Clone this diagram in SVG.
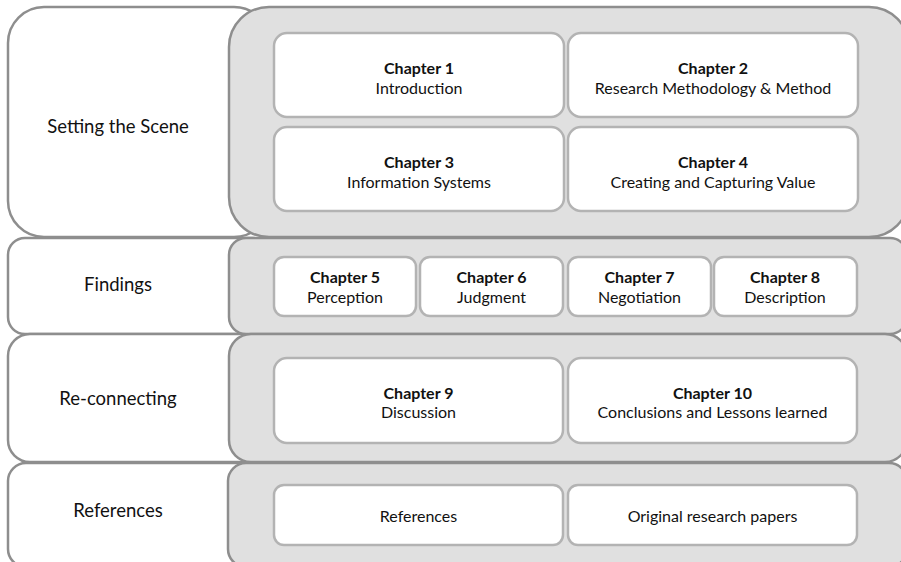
<svg xmlns="http://www.w3.org/2000/svg" width="901" height="562" viewBox="0 0 901 562">
  <style>
    .label { fill: #ffffff; stroke: #8e8e8e; stroke-width: 2.5; }
    .band { fill: #e0e0e0; stroke: #8e8e8e; stroke-width: 2.5; }
    .card { fill: #ffffff; stroke: #b3b3b3; stroke-width: 2.5; }
    text { font-family: Lato, "Liberation Sans", sans-serif; fill: #111111; text-anchor: middle; }
    .sec { font-size: 18.5px; }
    .t { font-size: 16px; }
    .b { font-size: 16px; font-weight: bold; }
  </style>

  <!-- section labels (left column) -->
  <g id="sec-scene">
    <rect class="label" x="8" y="7" width="262" height="230" rx="36"/>
    <text class="sec" x="118" y="133">Setting the Scene</text>
  </g>
  <g id="sec-findings">
    <rect class="label" x="8" y="238" width="262" height="96" rx="17"/>
    <text class="sec" x="118" y="291">Findings</text>
  </g>
  <g id="sec-reconnecting">
    <rect class="label" x="8" y="334" width="262" height="128" rx="22"/>
    <text class="sec" x="118" y="405">Re-connecting</text>
  </g>
  <g id="sec-references">
    <rect class="label" x="8" y="463" width="262" height="104" rx="18"/>
    <text class="sec" x="118" y="517">References</text>
  </g>

  <!-- grey bands holding the chapters -->
  <g id="band-scene"><rect class="band" x="229" y="7" width="680" height="230" rx="40"/></g>
  <g id="band-findings"><rect class="band" x="229" y="238" width="678" height="96" rx="17"/></g>
  <g id="band-reconnecting"><rect class="band" x="229" y="334" width="678" height="128" rx="22"/></g>
  <g id="band-references"><rect class="band" x="228" y="463" width="679" height="104" rx="18"/></g>

  <!-- chapters: setting the scene -->
  <g id="ch1">
    <rect class="card" x="274" y="33" width="290" height="84" rx="13"/>
    <text class="b" x="419" y="74">Chapter 1</text>
    <text class="t" x="419" y="94">Introduction</text>
  </g>
  <g id="ch2">
    <rect class="card" x="568" y="33" width="290" height="84" rx="13"/>
    <text class="b" x="713" y="74">Chapter 2</text>
    <text class="t" x="713" y="94">Research Methodology &amp; Method</text>
  </g>
  <g id="ch3">
    <rect class="card" x="274" y="127" width="290" height="84" rx="13"/>
    <text class="b" x="419" y="167.5">Chapter 3</text>
    <text class="t" x="419" y="187.5">Information Systems</text>
  </g>
  <g id="ch4">
    <rect class="card" x="568" y="127" width="290" height="84" rx="13"/>
    <text class="b" x="713" y="167.5">Chapter 4</text>
    <text class="t" x="713" y="187.5">Creating and Capturing Value</text>
  </g>

  <!-- chapters: findings -->
  <g id="ch5">
    <rect class="card" x="274" y="257" width="142" height="59" rx="10"/>
    <text class="b" x="345" y="283">Chapter 5</text>
    <text class="t" x="345" y="303">Perception</text>
  </g>
  <g id="ch6">
    <rect class="card" x="420" y="257" width="143" height="59" rx="10"/>
    <text class="b" x="491.5" y="283">Chapter 6</text>
    <text class="t" x="491.5" y="303">Judgment</text>
  </g>
  <g id="ch7">
    <rect class="card" x="568" y="257" width="143" height="59" rx="10"/>
    <text class="b" x="639.5" y="283">Chapter 7</text>
    <text class="t" x="639.5" y="303">Negotiation</text>
  </g>
  <g id="ch8">
    <rect class="card" x="714" y="257" width="143" height="59" rx="10"/>
    <text class="b" x="785" y="283">Chapter 8</text>
    <text class="t" x="785" y="303">Description</text>
  </g>

  <!-- chapters: re-connecting -->
  <g id="ch9">
    <rect class="card" x="274" y="358" width="289" height="85" rx="13"/>
    <text class="b" x="418.5" y="398.5">Chapter 9</text>
    <text class="t" x="418.5" y="417.5">Discussion</text>
  </g>
  <g id="ch10">
    <rect class="card" x="568" y="358" width="289" height="85" rx="13"/>
    <text class="b" x="712.5" y="398.5">Chapter 10</text>
    <text class="t" x="712.5" y="417.5">Conclusions and Lessons learned</text>
  </g>

  <!-- back matter -->
  <g id="refs">
    <rect class="card" x="274" y="485" width="289" height="60" rx="10"/>
    <text class="t" x="418.5" y="521.5">References</text>
  </g>
  <g id="papers">
    <rect class="card" x="568" y="485" width="289" height="60" rx="10"/>
    <text class="t" x="712.5" y="521.5">Original research papers</text>
  </g>
</svg>
